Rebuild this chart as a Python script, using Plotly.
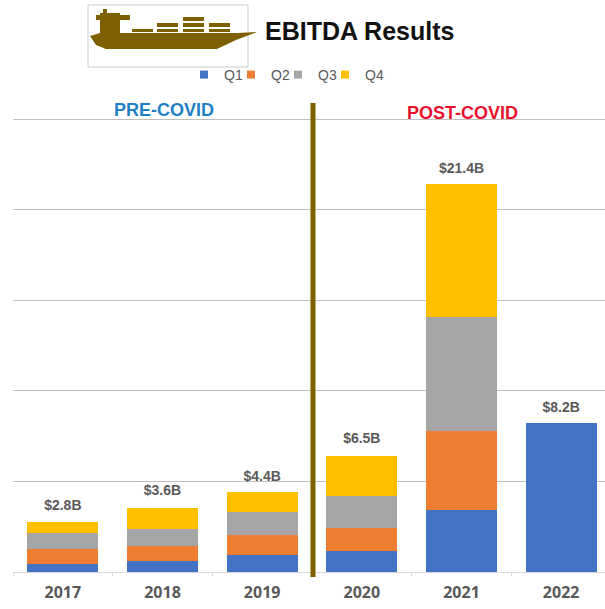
import plotly.graph_objects as go

years = ["2017", "2018", "2019", "2020", "2021", "2022"]
q1 = [0.45, 0.6, 0.95, 1.15, 3.4, 8.2]
q2 = [0.8, 0.85, 1.1, 1.3, 4.4, 0]
q3 = [0.9, 0.9, 1.25, 1.75, 6.3, 0]
q4 = [0.6, 1.2, 1.1, 2.2, 7.3, 0]
totals = [2.8, 3.6, 4.4, 6.5, 21.4, 8.2]
labels = ["$2.8B", "$3.6B", "$4.4B", "$6.5B", "$21.4B", "$8.2B"]
series = [("Q1", q1, "#4472c4"), ("Q2", q2, "#ed7d31"), ("Q3", q3, "#a5a5a5"), ("Q4", q4, "#ffc000")]

W, H = 605, 609
L, T, B = 13, 118, 37
px = lambda x: (x - L) / (W - L)
py = lambda y: (H - B - y) / (H - B - T)
NARROW = "'Liberation Sans Narrow', 'Liberation Sans', Arial, sans-serif"
GOLD = "#7f6000"

fig = go.Figure()
for name, vals, col in series:
    fig.add_bar(x=years, y=vals, name=name, marker=dict(color=col, line=dict(width=0)), showlegend=False)
for name, vals, col in series:
    fig.add_scatter(x=[None], y=[None], mode="markers", name=name,
                    marker=dict(symbol="square", size=8, color=col))
fig.add_scatter(x=years, y=[t + 0.45 for t in totals], mode="text", text=labels, textposition="top center",
                textfont=dict(family=NARROW, size=14, color="#595959", weight="bold"),
                showlegend=False, hoverinfo="skip", cliponaxis=False)


def poly(points, color):
    path = "M" + " L".join(f"{px(x):.4f},{py(y):.4f}" for x, y in points) + " Z"
    return dict(type="path", xref="paper", yref="paper", path=path, fillcolor=color, line=dict(width=0), layer="above")


def rect(x0, y0, x1, y1, color):
    return poly([(x0, y0), (x1, y0), (x1, y1), (x0, y1)], color)


shapes = [
    dict(type="rect", xref="paper", yref="paper", x0=px(88), x1=px(248), y0=py(67), y1=py(5),
         line=dict(color="#c9c9c9", width=1), fillcolor="white", layer="above"),
    poly([(90, 36), (100, 33), (238, 33), (257, 32), (236, 40), (217, 49), (106, 49), (96, 45)], GOLD),
    rect(100, 13, 120, 34, GOLD),
    rect(96, 15, 130, 20, GOLD),
    rect(103, 9, 107, 15, GOLD),
    rect(132, 29, 153, 32, GOLD),
    rect(157, 23, 178, 27, GOLD), rect(157, 29, 178, 32, GOLD),
    rect(183, 17, 204, 21, GOLD), rect(183, 23, 204, 27, GOLD), rect(183, 29, 204, 32, GOLD),
    rect(209, 23, 230, 27, GOLD), rect(209, 29, 230, 32, GOLD),
    dict(type="line", xref="paper", yref="paper", x0=px(313), x1=px(313), y0=py(103), y1=py(577),
         line=dict(color=GOLD, width=5), layer="above"),
]

annotations = [
    dict(text="EBITDA Results", x=px(263), y=py(31), xref="paper", yref="paper", xanchor="left", yanchor="middle",
         showarrow=False, font=dict(family="'Liberation Sans', Arial, sans-serif", size=25, color="#111111", weight="bold")),
    dict(text="PRE-COVID", x=px(164), y=py(110), xref="paper", yref="paper", xanchor="center", yanchor="middle",
         showarrow=False, font=dict(family=NARROW, size=18, color="#1f7fc4", weight="bold")),
    dict(text="POST-COVID", x=px(462), y=py(113), xref="paper", yref="paper", xanchor="center", yanchor="middle",
         showarrow=False, font=dict(family=NARROW, size=18, color="#e8112d", weight="bold")),
]

fig.update_layout(
    width=W, height=H, autosize=False, barmode="stack", bargap=0.29,
    margin=dict(l=L, r=0, t=T, b=B), paper_bgcolor="white", plot_bgcolor="white",
    showlegend=True,
    legend=dict(orientation="h", x=px(190), y=py(59), xanchor="left", yanchor="top", traceorder="normal",
                font=dict(family=NARROW, size=14, color="#595959"), entrywidth=8, entrywidthmode="pixels",
                indentation=-6, bgcolor="rgba(0,0,0,0)"),
    xaxis=dict(type="category", range=[-0.5, 5.44], showgrid=False, showline=True, linecolor="#d9d9d9", ticks="outside",
               tickson="boundaries", ticklen=3, tickcolor="#d9d9d9", ticklabelstandoff=6,
               tickfont=dict(family="'Open Sans', sans-serif", size=16, color="#595959", weight="bold")),
    yaxis=dict(range=[0, 25.06], tickvals=[0, 5, 10, 15, 20, 25], showticklabels=False, gridcolor="#bfbfbf", gridwidth=1,
               zeroline=False, showline=False),
    shapes=shapes, annotations=annotations,
)
post = ("document.body.style.margin='0';"
        "document.querySelectorAll('.legend .scrollbox').forEach(e=>e.removeAttribute('clip-path'));")
fig.write_html("out.html", post_script=post, config={"displayModeBar": False})
